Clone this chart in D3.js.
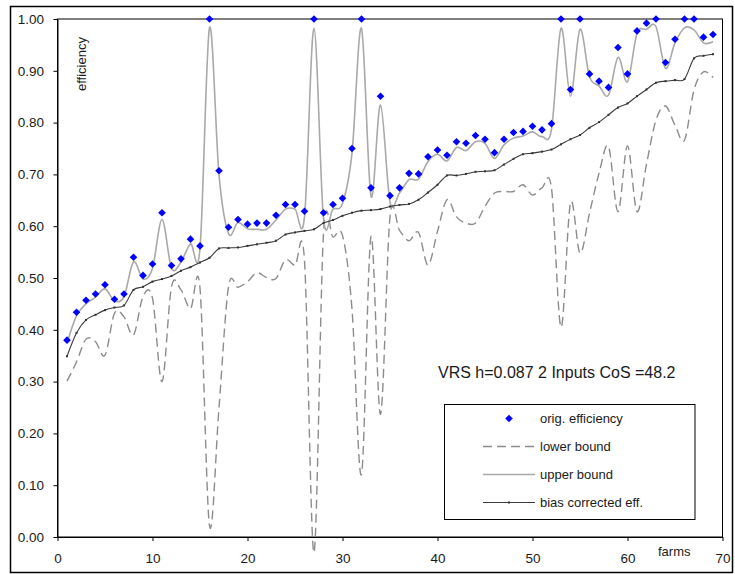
<!DOCTYPE html>
<html>
<head>
<meta charset="utf-8">
<script src="https://cdn.jsdelivr.net/npm/d3@7"></script>
<style>
  html, body { margin: 0; padding: 0; background: #fff; }
  svg { display: block; font-family: "Liberation Sans", Arial, sans-serif; }
</style>
</head>
<body>
<svg id="chart" width="735" height="574"></svg>
<script>
// Farm efficiency scores (DEA, VRS) with bootstrap bounds
const farms = d3.range(1, 70);

const origEfficiency = [
  0.380, 0.434, 0.457, 0.469, 0.487, 0.459, 0.469, 0.540, 0.505, 0.527,
  0.626, 0.524, 0.537, 0.575, 0.562, 1.000, 0.707, 0.598, 0.613, 0.604,
  0.606, 0.606, 0.621, 0.642, 0.642, 0.629, 1.000, 0.626, 0.642, 0.654,
  0.750, 1.000, 0.674, 0.851, 0.659, 0.674, 0.702, 0.701, 0.734, 0.747,
  0.737, 0.763, 0.760, 0.775, 0.768, 0.742, 0.768, 0.781, 0.783, 0.793,
  0.786, 0.798, 1.000, 0.864, 1.000, 0.894, 0.880, 0.868, 0.945, 0.894,
  0.977, 0.992, 1.000, 0.916, 0.961, 1.000, 1.000, 0.965, 0.970
];

const lowerBound = [
  0.301, 0.338, 0.382, 0.377, 0.351, 0.432, 0.425, 0.390, 0.464, 0.461,
  0.300, 0.483, 0.477, 0.441, 0.480, 0.022, 0.250, 0.483, 0.482, 0.493,
  0.510, 0.501, 0.499, 0.535, 0.524, 0.533, -0.030, 0.586, 0.579, 0.582,
  0.440, 0.121, 0.580, 0.237, 0.618, 0.592, 0.572, 0.588, 0.525, 0.590,
  0.651, 0.618, 0.606, 0.606, 0.638, 0.664, 0.667, 0.667, 0.680, 0.660,
  0.674, 0.673, 0.405, 0.645, 0.548, 0.625, 0.702, 0.754, 0.628, 0.755,
  0.628, 0.720, 0.805, 0.832, 0.795, 0.766, 0.863, 0.898, 0.887
];

const upperBound = [
  0.374, 0.427, 0.450, 0.463, 0.479, 0.456, 0.464, 0.531, 0.498, 0.519,
  0.613, 0.519, 0.531, 0.566, 0.557, 0.983, 0.699, 0.586, 0.607, 0.595,
  0.594, 0.594, 0.612, 0.633, 0.633, 0.618, 0.982, 0.615, 0.633, 0.644,
  0.741, 0.982, 0.658, 0.834, 0.647, 0.664, 0.690, 0.691, 0.725, 0.739,
  0.726, 0.752, 0.746, 0.763, 0.760, 0.731, 0.757, 0.770, 0.774, 0.782,
  0.773, 0.787, 0.982, 0.851, 0.980, 0.889, 0.871, 0.853, 0.926, 0.879,
  0.972, 0.980, 0.985, 0.905, 0.954, 0.983, 0.979, 0.954, 0.956
];

const biasCorrected = [
  0.349, 0.394, 0.419, 0.429, 0.438, 0.443, 0.447, 0.477, 0.483, 0.493,
  0.498, 0.504, 0.514, 0.521, 0.530, 0.539, 0.557, 0.558, 0.559, 0.562,
  0.565, 0.568, 0.572, 0.584, 0.588, 0.591, 0.594, 0.606, 0.612, 0.620,
  0.626, 0.630, 0.631, 0.633, 0.638, 0.641, 0.643, 0.651, 0.665, 0.680,
  0.698, 0.698, 0.701, 0.705, 0.706, 0.708, 0.719, 0.730, 0.739, 0.741,
  0.744, 0.748, 0.758, 0.768, 0.776, 0.790, 0.801, 0.815, 0.829, 0.837,
  0.851, 0.864, 0.877, 0.880, 0.882, 0.884, 0.924, 0.929, 0.932
];

const xTicks = [0, 10, 20, 30, 40, 50, 60, 70];
const yTicks = [0, 0.1, 0.2, 0.3, 0.4, 0.5, 0.6, 0.7, 0.8, 0.9, 1.0];

const seriesNames = ["orig. efficiency", "lower bound", "upper bound", "bias corrected eff."];
const yTitle = "efficiency";
const xTitle = "farms";
const noteText = "VRS h=0.087 2 Inputs CoS =48.2";

const svg = d3.select("#chart");

// chart frame
svg.append("rect")
  .attr("x", 10.5).attr("y", 6.5)
  .attr("width", 722).attr("height", 566)
  .attr("fill", "#fff").attr("stroke", "#000").attr("stroke-width", 1.5);

const x = d3.scaleLinear().domain([0, 70]).range([57.5, 722.5]);
const y = d3.scaleLinear().domain([0, 1]).range([537, 19]);

// plot area border
svg.append("rect")
  .attr("x", x(0)).attr("y", y(1))
  .attr("width", x(70) - x(0)).attr("height", y(0) - y(1))
  .attr("fill", "none").attr("stroke", "#000").attr("stroke-width", 1);

const yAxis = svg.append("g")
  .attr("transform", `translate(${x(0)},0)`)
  .call(d3.axisLeft(y).tickValues(yTicks).tickFormat(d3.format(".2f"))
    .tickSize(4).tickSizeOuter(0).tickPadding(9.5));

const xAxis = svg.append("g")
  .attr("transform", `translate(0,${y(0)})`)
  .call(d3.axisBottom(x).tickValues(xTicks).tickFormat(d3.format("d"))
    .tickSize(4).tickSizeOuter(0).tickPadding(12));

[yAxis, xAxis].forEach(g => {
  g.selectAll("path.domain").attr("stroke", "#000");
  g.selectAll(".tick line").attr("stroke", "#000");
  g.selectAll(".tick text")
    .attr("fill", "#1a1a1a")
    .style("font-size", "13.5px")
    .style("font-family", "'Liberation Sans', Arial, sans-serif");
});

const smooth = d3.curveCardinal.tension(0);

const lineOf = values => d3.line()
  .x((d, i) => x(farms[i]))
  .y(d => y(d))
  .curve(smooth)(values);

// lower bound (dashed)
svg.append("path")
  .attr("d", lineOf(lowerBound))
  .attr("fill", "none").attr("stroke", "#8c8c8c")
  .attr("stroke-width", 1.4).attr("stroke-dasharray", "9,5");

// upper bound
svg.append("path")
  .attr("d", lineOf(upperBound))
  .attr("fill", "none").attr("stroke", "#a9a9a9")
  .attr("stroke-width", 1.6);

// bias corrected efficiency
svg.append("path")
  .attr("d", lineOf(biasCorrected))
  .attr("fill", "none").attr("stroke", "#3a3a3a")
  .attr("stroke-width", 1.1);

svg.append("g").selectAll("rect")
  .data(biasCorrected)
  .join("rect")
  .attr("x", (d, i) => x(farms[i]) - 1)
  .attr("y", d => y(d) - 1)
  .attr("width", 2).attr("height", 2)
  .attr("fill", "#333");

// original efficiency diamonds
const diamond = "M0,-3.8L3.8,0L0,3.8L-3.8,0Z";
svg.append("g").selectAll("path")
  .data(origEfficiency)
  .join("path")
  .attr("d", diamond)
  .attr("transform", (d, i) => `translate(${x(farms[i])},${y(d)})`)
  .attr("fill", "#0000ff");

// axis titles and note
svg.append("text")
  .attr("transform", "translate(86,64) rotate(-90)")
  .attr("text-anchor", "middle")
  .style("font-size", "13px").attr("fill", "#1a1a1a")
  .text(yTitle);

svg.append("text")
  .attr("x", 658).attr("y", 556)
  .style("font-size", "13px").attr("fill", "#1a1a1a")
  .text(xTitle);

svg.append("text")
  .attr("x", 438).attr("y", 377.5)
  .style("font-size", "16px").attr("fill", "#1a1a1a")
  .text(noteText);

// legend
const legend = svg.append("g");
legend.append("rect")
  .attr("x", 444.5).attr("y", 404.5)
  .attr("width", 250.5).attr("height", 115)
  .attr("fill", "#fff").attr("stroke", "#000").attr("stroke-width", 1);

const rowY = [418.5, 446.5, 474.5, 502.5];
const lx0 = 483, lx1 = 535;

legend.append("path").attr("d", diamond)
  .attr("transform", `translate(${(lx0 + lx1) / 2},${rowY[0]})`)
  .attr("fill", "#0000ff");
legend.append("line")
  .attr("x1", lx0).attr("x2", lx1).attr("y1", rowY[1]).attr("y2", rowY[1])
  .attr("stroke", "#8c8c8c").attr("stroke-width", 1.4).attr("stroke-dasharray", "9,5");
legend.append("line")
  .attr("x1", lx0).attr("x2", lx1).attr("y1", rowY[2]).attr("y2", rowY[2])
  .attr("stroke", "#a9a9a9").attr("stroke-width", 1.6);
legend.append("line")
  .attr("x1", lx0).attr("x2", lx1).attr("y1", rowY[3]).attr("y2", rowY[3])
  .attr("stroke", "#3a3a3a").attr("stroke-width", 1.1);
legend.append("rect")
  .attr("x", (lx0 + lx1) / 2 - 1).attr("y", rowY[3] - 1)
  .attr("width", 2).attr("height", 2).attr("fill", "#333");

legend.selectAll("text.lbl")
  .data(seriesNames)
  .join("text")
  .attr("class", "lbl")
  .attr("x", 540)
  .attr("y", (d, i) => rowY[i] + 4.5)
  .style("font-size", "13px").attr("fill", "#1a1a1a")
  .text(d => d);
</script>
</body>
</html>
